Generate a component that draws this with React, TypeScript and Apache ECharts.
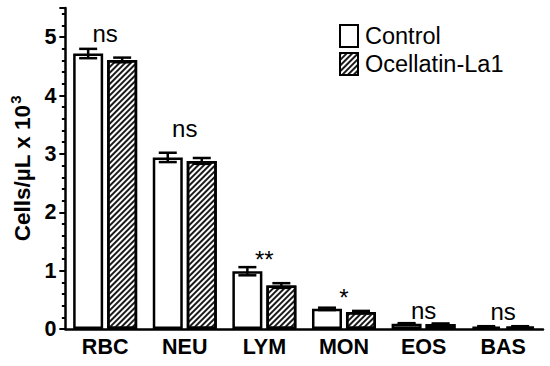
import React, { useEffect, useRef } from "react";
import * as echarts from "echarts";

const categories = ["RBC", "NEU", "LYM", "MON", "EOS", "BAS"];
const seriesNames = ["Control", "Ocellatin-La1"];
const controlMean = [4.72, 2.94, 0.99, 0.345, 0.09, 0.04];
const controlErr = [0.08, 0.08, 0.07, 0.02, 0.01, 0.008];
const ocellatinMean = [4.61, 2.88, 0.745, 0.29, 0.085, 0.04];
const ocellatinErr = [0.04, 0.05, 0.04, 0.02, 0.01, 0.008];
const sigLabels = ["ns", "ns", "**", "*", "ns", "ns"];
const sigY = [5.06, 3.43, 1.19, 0.54, 0.32, 0.305];
const yTicks = [0, 1, 2, 3, 4, 5];

const FONT = "'Liberation Sans', Arial, sans-serif";
const BAR_W = 30;
const BAR_GAP = 4;

export default function App() {
  const ref = useRef<HTMLDivElement>(null);
  useEffect(() => {
    if (!ref.current) return;
    const chart = echarts.init(ref.current, null, { renderer: "svg" });
    const off = (BAR_W + BAR_GAP) / 2;

    const errSeries = (means: number[], errs: number[], dir: number) => ({
      type: "custom",
      z: 5,
      data: means.map((m, i) => [i, m, errs[i]]),
      renderItem: (params: any, api: any) => {
        const i = api.value(0);
        const m = api.value(1);
        const e = api.value(2);
        const x = api.coord([i, 0])[0] + dir * off;
        const yt = api.coord([i, m + e])[1];
        const yb = api.coord([i, m - e])[1];
        const hw = 9;
        const st = { stroke: "#000", lineWidth: 2.5 };
        return {
          type: "group",
          children: [
            { type: "line", shape: { x1: x, y1: yt, x2: x, y2: yb }, style: st },
            { type: "line", shape: { x1: x - hw, y1: yt, x2: x + hw, y2: yt }, style: st },
            { type: "line", shape: { x1: x - hw, y1: yb, x2: x + hw, y2: yb }, style: st },
          ],
        };
      },
    });

    const hatch = {
      symbol: "rect",
      symbolSize: 1,
      color: "#1a1a1a",
      dashArrayX: [1, 0],
      dashArrayY: [1.1, 1.9],
      rotation: -Math.PI / 4,
    };

    chart.setOption({
      animation: false,
      textStyle: { fontFamily: FONT },
      grid: { left: 62, right: 7, top: 8, bottom: 37, containLabel: false },
      legend: {
        orient: "vertical",
        left: 334,
        top: 19,
        itemWidth: 18,
        itemHeight: 22,
        itemGap: 4,
        icon: "rect",
        textStyle: { fontSize: 23.5, color: "#000", fontFamily: FONT, padding: [0, 0, 0, 2] },
        data: seriesNames,
      },
      xAxis: {
        type: "category",
        data: categories,
        axisLine: { lineStyle: { color: "#000", width: 2.5 } },
        axisTick: { alignWithLabel: true, length: 6, lineStyle: { color: "#000", width: 2.5 } },
        axisLabel: { fontSize: 21.5, fontWeight: "bold", color: "#000", margin: 7, fontFamily: FONT },
      },
      yAxis: {
        type: "value",
        min: 0,
        max: 5.5,
        interval: 1,
        splitLine: { show: false },
        axisLine: { show: true, lineStyle: { color: "#000", width: 2.5 } },
        axisTick: { show: true, length: 6, lineStyle: { color: "#000", width: 2 } },
        minorTick: { show: true, splitNumber: 5, length: 3.5, lineStyle: { color: "#000", width: 2 } },
        axisLabel: {
          fontSize: 21.5,
          fontWeight: "bold",
          color: "#000",
          margin: 9,
          fontFamily: FONT,
          formatter: (v: number) => (yTicks.includes(v) ? String(v) : ""),
        },
        name: "{a|Cells/µL x 10}{b|3}",
        nameLocation: "middle",
        nameRotate: 90,
        nameGap: 28,
        nameTextStyle: {
          rich: {
            a: { fontSize: 22.5, fontWeight: "bold", color: "#000", fontFamily: FONT, lineHeight: 26 },
            b: { fontSize: 15, fontWeight: "bold", color: "#000", fontFamily: FONT, padding: [0, 0, 13, 1] },
          },
        },
      },
      series: [
        {
          name: seriesNames[0],
          type: "bar",
          data: controlMean,
          barWidth: BAR_W,
          barGap: `${(BAR_GAP / BAR_W) * 100}%`,
          itemStyle: { color: "#fff", borderColor: "#000", borderWidth: 2.5 },
        },
        {
          name: seriesNames[1],
          type: "bar",
          data: ocellatinMean,
          barWidth: BAR_W,
          itemStyle: { color: "#fff", borderColor: "#000", borderWidth: 2.5, decal: hatch },
        },
        errSeries(controlMean, controlErr, -1),
        errSeries(ocellatinMean, ocellatinErr, 1),
        {
          type: "custom",
          z: 6,
          data: sigLabels.map((s, i) => [i, sigY[i]]),
          renderItem: (params: any, api: any) => {
            const i = api.value(0);
            const p = api.coord([i, api.value(1)]);
            return {
              type: "text",
              style: {
                text: sigLabels[i],
                x: p[0],
                y: p[1],
                align: "center",
                verticalAlign: "middle",
                fontSize: 24,
                fontFamily: FONT,
                fill: "#000",
              },
            };
          },
        },
      ],
    });
    return () => chart.dispose();
  }, []);
  return <div ref={ref} style={{ width: 550, height: 366, position: "absolute", left: 0, top: 0 }} />;
}
